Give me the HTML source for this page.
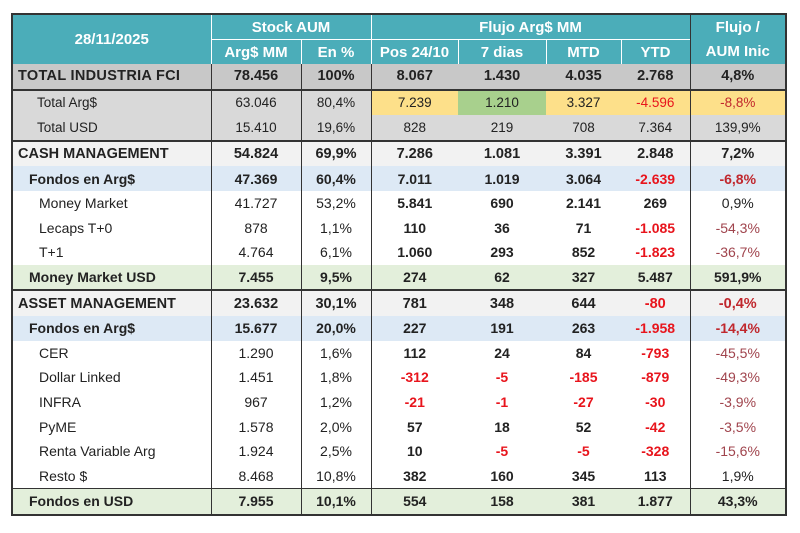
<!DOCTYPE html>
<html><head><meta charset="utf-8">
<style>
html,body{margin:0;padding:0;background:#fff;width:800px;height:533px;overflow:hidden}
body{font-family:"Liberation Sans",Arial,sans-serif;color:#222}
table{position:absolute;left:11px;top:13px;border-collapse:collapse;table-layout:fixed;border:2px solid #333}
td,th{padding:0;text-align:center;font-size:14px;white-space:nowrap;overflow:hidden}
th{background:#4badb9;color:#fff;font-weight:bold;font-size:15px;height:24px;border-left:1.5px solid #fff;border-top:1.5px solid #fff}
tr.b td{height:24.6px}
td.l{text-align:left}
.vl{border-left:1.5px solid #333}
.neg{color:#e8141c}
.negs{color:#a0444d}
.bold{font-weight:bold}
</style></head><body>
<table>
<colgroup><col style="width:199px"><col style="width:90px"><col style="width:70px"><col style="width:87px"><col style="width:88px"><col style="width:75px"><col style="width:69px"><col style="width:96px"></colgroup>
<thead>
<tr>
<th rowspan="2" style="border-left:none;border-top:none">28/11/2025</th>
<th colspan="2" style="border-top:none">Stock AUM</th>
<th colspan="4" style="border-top:none">Flujo Arg$ MM</th>
<th rowspan="2" style="border-left:1.5px solid #333;border-top:none;line-height:24px">Flujo /<br>AUM Inic</th>
</tr>
<tr>
<th>Arg$ MM</th>
<th>En %</th>
<th>Pos 24/10</th>
<th>7 dias</th>
<th>MTD</th>
<th>YTD</th>
</tr>
</thead>
<tbody id="tb"></tbody>
</table>
<script>
const labels=["TOTAL INDUSTRIA FCI","Total Arg$","Total USD","CASH MANAGEMENT","Fondos en Arg$","Money Market","Lecaps T+0","T+1","Money Market USD","ASSET MANAGEMENT","Fondos en Arg$","CER","Dollar Linked","INFRA","PyME","Renta Variable Arg","Resto $","Fondos en USD"];
const stockMM=["78.456","63.046","15.410","54.824","47.369","41.727","878","4.764","7.455","23.632","15.677","1.290","1.451","967","1.578","1.924","8.468","7.955"];
const stockPct=["100%","80,4%","19,6%","69,9%","60,4%","53,2%","1,1%","6,1%","9,5%","30,1%","20,0%","1,6%","1,8%","1,2%","2,0%","2,5%","10,8%","10,1%"];
const pos=["8.067","7.239","828","7.286","7.011","5.841","110","1.060","274","781","227","112","-312","-21","57","10","382","554"];
const dias7=["1.430","1.210","219","1.081","1.019","690","36","293","62","348","191","24","-5","-1","18","-5","160","158"];
const mtd=["4.035","3.327","708","3.391","3.064","2.141","71","852","327","644","263","84","-185","-27","52","-5","345","381"];
const ytd=["2.768","-4.596","7.364","2.848","-2.639","269","-1.085","-1.823","5.487","-80","-1.958","-793","-879","-30","-42","-328","113","1.877"];
const ratio=["4,8%","-8,8%","139,9%","7,2%","-6,8%","0,9%","-54,3%","-36,7%","591,9%","-0,4%","-14,4%","-45,5%","-49,3%","-3,9%","-3,5%","-15,6%","1,9%","43,3%"];
const kinds=["T","t","t","S","F","i","i","i","U","S","F","i","i","i","i","i","i","U"];
const bg={T:"#c8c8c8",t:"#d9d9d9",S:"#f2f2f2",F:"#dde9f5",i:"#fff",U:"#e3efdb"};
const indent={T:5,t:24,S:5,F:16,i:26,U:16};
const tb=document.getElementById('tb');
labels.forEach((lab,r)=>{
  const k=kinds[r];
  const tr=document.createElement('tr');
  tr.className='b';
  
  
  tr.style.background=bg[k];
  if(r==1||r==3||r==9) tr.style.borderTop='2px solid #333';
  if(r==17) tr.style.borderTop='1.5px solid #333';
  const vals=[lab,stockMM[r],stockPct[r],pos[r],dias7[r],mtd[r],ytd[r],ratio[r]];
  vals.forEach((v,c)=>{
    const td=document.createElement('td');
    td.textContent=v;
    
    
    td.style.fontSize=(k==='t')?'13.5px':(k==='T'||k==='S'?'14.5px':'14px');
    if(c===0){td.className='l';td.style.paddingLeft=indent[k]+'px';}
    if(c===1||c===2||c===3||c===7) td.classList.add('vl');
    let b=false;
    if(k==='T'||k==='S'||k==='F'||k==='U') b=true;
    if(k==='i'&&c>=3&&c<=6) b=true;
    if(b) td.classList.add('bold');
    if(v.startsWith('-')){
      if(c===7) td.classList.add(k==='i'?'negs':'neg'); else td.classList.add('neg');
      if(c===7&&k!=='i') td.style.color='#c0272d';
    }
    if(r===1){
      if(c===3||c===5||c===6||c===7) td.style.background='#fde08a';
      if(c===4) td.style.background='#a8d08d';
    }
    if(k==='T'&&c===0) td.style.letterSpacing='0.3px';
    tr.appendChild(td);
  });
  tb.appendChild(tr);
});
</script>
</body></html>
